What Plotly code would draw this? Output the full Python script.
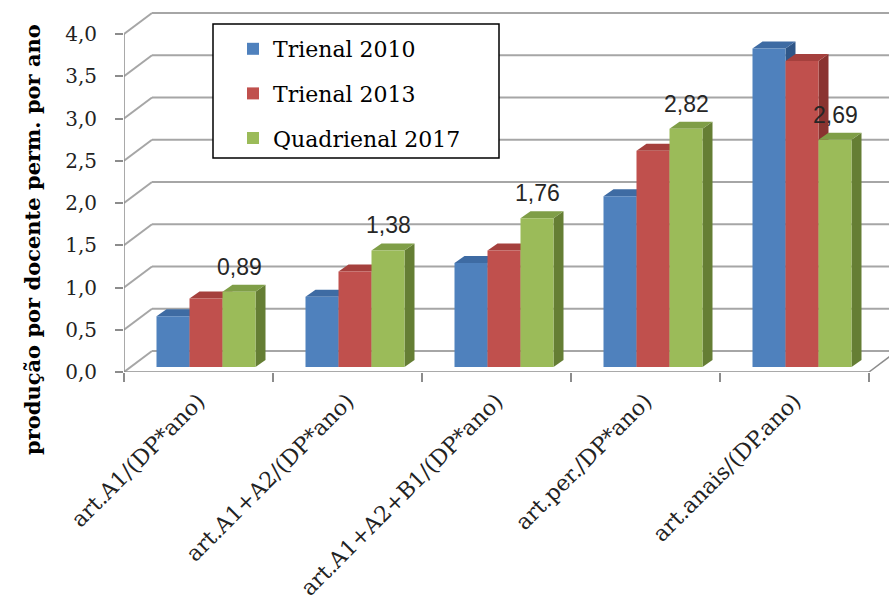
import plotly.graph_objects as go

# ---------------- data ----------------
categories = [
    "art.A1/(DP*ano)",
    "art.A1+A2/(DP*ano)",
    "art.A1+A2+B1/(DP*ano)",
    "art.per./DP*ano)",
    "art.anais/(DP.ano)",
]
series_names = ["Trienal 2010", "Trienal 2013", "Quadrienal 2017"]
trienal_2010 = [0.60, 0.83, 1.23, 2.02, 3.77]
trienal_2013 = [0.81, 1.13, 1.38, 2.56, 3.62]
quadrienal_2017 = [0.89, 1.38, 1.76, 2.82, 2.69]
y_tick_values = [0.0, 0.5, 1.0, 1.5, 2.0, 2.5, 3.0, 3.5, 4.0]
y_title = "produção por docente perm. por ano"

series_values = [trienal_2010, trienal_2013, quadrienal_2017]

# ---------------- style ----------------
front_colors = ["#4F81BD", "#C0504D", "#9BBB59"]
top_colors = ["#3E6BA3", "#A5403D", "#7F9E47"]
side_colors = ["#2F5687", "#8A3330", "#657E34"]
grid_color = "#A6A6A6"
axis_color = "#8C8C8C"
serif = "DejaVu Serif"

# pixel geometry helpers (pixels per category / per unit value)
PX_CAT = 149.0
PX_UNIT = 84.5
L_MARGIN, B_MARGIN = 124, 236
W, H = 889, 608


def dx(px):
    return px / PX_CAT


def dy(px):
    return px / PX_UNIT


X_MIN = -0.5
X_MAX = X_MIN + dx(W - L_MARGIN)
Y_MAX = dy(H - B_MARGIN)
WALL_DX, WALL_DY = dx(28), dy(21)     # back wall offset
BAR_DX, BAR_DY = dx(10), dy(7)        # bar depth
BAR_BASE = dy(5)
BAR_W = dx(33)
BAR_OFF = [dx(-42), dx(-9), dx(24)]

n = len(categories)
xs = list(range(n))

fig = go.Figure()

shapes = []
# back wall gridlines + left wall diagonals
for v in y_tick_values:
    shapes.append(dict(type="line", xref="x", yref="y",
                       x0=X_MIN + WALL_DX, y0=v + WALL_DY, x1=X_MAX + 1, y1=v + WALL_DY,
                       line=dict(color=grid_color, width=2), layer="below"))
    shapes.append(dict(type="line", xref="x", yref="y",
                       x0=X_MIN, y0=v, x1=X_MIN + WALL_DX, y1=v + WALL_DY,
                       line=dict(color=grid_color, width=2), layer="below"))
# front axis lines
shapes.append(dict(type="line", xref="x", yref="y", x0=X_MIN, y0=0, x1=X_MIN, y1=y_tick_values[-1],
                   line=dict(color=axis_color, width=1.5), layer="below"))
shapes.append(dict(type="line", xref="x", yref="y", x0=X_MIN, y0=0, x1=n - 0.5, y1=0,
                   line=dict(color=axis_color, width=1.5), layer="below"))
shapes.append(dict(type="line", xref="x", yref="y", x0=n - 0.5, y0=0,
                   x1=n - 0.5 + WALL_DX, y1=WALL_DY,
                   line=dict(color=axis_color, width=1.5), layer="below"))

# 3D faces (side + top) for each bar
for i in range(n):
    for s in range(3):
        v = series_values[s][i]
        xl = xs[i] + BAR_OFF[s]
        xr = xl + BAR_W
        top = BAR_BASE + v
        side = (f"M{xr},{BAR_BASE} L{xr},{top} L{xr + BAR_DX},{top + BAR_DY} "
                f"L{xr + BAR_DX},{BAR_BASE + BAR_DY} Z")
        topf = (f"M{xl},{top} L{xl + BAR_DX},{top + BAR_DY} L{xr + BAR_DX},{top + BAR_DY} "
                f"L{xr},{top} Z")
        shapes.append(dict(type="path", xref="x", yref="y", path=side,
                           fillcolor=side_colors[s], line=dict(width=0), layer="below"))
        shapes.append(dict(type="path", xref="x", yref="y", path=topf,
                           fillcolor=top_colors[s], line=dict(width=0), layer="below"))

# legend box
shapes.append(dict(type="rect", xref="paper", yref="paper",
                   x0=(213 - L_MARGIN) / (W - L_MARGIN), x1=(499 - L_MARGIN) / (W - L_MARGIN),
                   y0=(H - B_MARGIN - 158) / (H - B_MARGIN), y1=(H - B_MARGIN - 24) / (H - B_MARGIN),
                   fillcolor="white", line=dict(color="black", width=1.5), layer="above"))

for s in range(3):
    fig.add_trace(go.Bar(
        x=xs, y=series_values[s], base=BAR_BASE,
        offset=BAR_OFF[s], width=BAR_W,
        name=series_names[s], legendgroup=series_names[s],
        marker=dict(color=front_colors[s], line=dict(width=0)),
        hoverinfo="skip",
    ))

annotations = []
for i in range(n):
    v = quadrienal_2017[i]
    annotations.append(dict(
        x=xs[i] + BAR_OFF[2] + BAR_W / 2, y=BAR_BASE + v, xref="x", yref="y",
        text=f"{v:.2f}".replace(".", ","), showarrow=False,
        yanchor="middle", yshift=25,
        font=dict(family="Liberation Sans", size=23, color="#262626"),
    ))
annotations.append(dict(
    x=(32 - L_MARGIN) / (W - L_MARGIN), y=(H - B_MARGIN - 240) / (H - B_MARGIN),
    xref="paper", yref="paper", text=f"<b>{y_title}</b>", textangle=-90, showarrow=False,
    xanchor="center", yanchor="middle",
    font=dict(family=serif, size=21, color="black"),
))

fig.update_layout(
    width=W, height=H,
    margin=dict(l=L_MARGIN, r=0, t=0, b=B_MARGIN, autoexpand=False),
    paper_bgcolor="white", plot_bgcolor="white",
    separators=",.",
    barmode="overlay",
    shapes=shapes,
    annotations=annotations,
    showlegend=True,
    legend=dict(
        x=(233 - L_MARGIN) / (W - L_MARGIN), y=(H - B_MARGIN - 28) / (H - B_MARGIN),
        xanchor="left", yanchor="top",
        bgcolor="rgba(0,0,0,0)", borderwidth=0,
        tracegroupgap=13,
        font=dict(family=serif, size=22, color="black"),
    ),
    xaxis=dict(
        range=[X_MIN, X_MAX], showgrid=False, zeroline=False, showline=False,
        automargin=False,
        tickmode="array", tickvals=xs, ticktext=categories, ticks="",
        tickangle=-45, ticklabelstandoff=11,
        tickfont=dict(family=serif, size=22, color="#222222"),
        minor=dict(tickmode="array", tickvals=[k - 0.5 for k in range(n + 1)],
                   ticks="outside", ticklen=9, tickwidth=1.5, tickcolor=axis_color),
    ),
    yaxis=dict(
        range=[0, Y_MAX], showgrid=False, zeroline=False, showline=False,
        automargin=False,
        tickmode="array", tickvals=y_tick_values, tickformat=".1f",
        ticks="outside", ticklen=8, tickwidth=1.5, tickcolor=axis_color,
        ticklabelstandoff=14,
        tickfont=dict(family=serif, size=20, color="#222222"),
    ),
)

fig.write_html("out.html")
